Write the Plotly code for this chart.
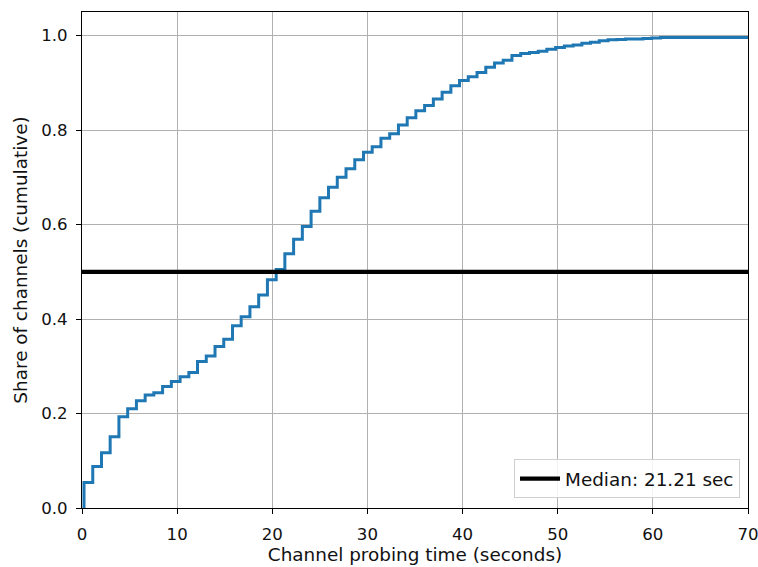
import plotly.graph_objects as go

# Left edges of the histogram bins (seconds), plus the last right edge
bin_edges = [
    0.21, 1.13, 2.05, 2.96, 3.88, 4.80, 5.72, 6.64, 7.55, 8.47,
    9.39, 10.31, 11.23, 12.14, 13.06, 13.98, 14.90, 15.82, 16.73, 17.65,
    18.57, 19.49, 20.41, 21.32, 22.24, 23.16, 24.08, 25.00, 25.91, 26.83,
    27.75, 28.67, 29.59, 30.50, 31.42, 32.34, 33.26, 34.18, 35.09, 36.01,
    36.93, 37.85, 38.77, 39.68, 40.60, 41.52, 42.44, 43.36, 44.27, 45.19,
    46.11, 47.03, 47.95, 48.86, 49.78, 50.70, 51.62, 52.54, 53.45, 54.37,
    55.29, 56.21, 57.13, 58.04, 58.96, 59.88, 60.80, 72.00,
]

# Cumulative share of channels over each bin
cum_share = [
    0.054, 0.088, 0.117, 0.151, 0.193, 0.210, 0.227, 0.239, 0.244, 0.257,
    0.268, 0.278, 0.287, 0.310, 0.322, 0.342, 0.357, 0.386, 0.405, 0.426,
    0.451, 0.483, 0.505, 0.538, 0.569, 0.596, 0.628, 0.657, 0.679, 0.700,
    0.718, 0.737, 0.753, 0.765, 0.783, 0.792, 0.811, 0.826, 0.841, 0.852,
    0.866, 0.880, 0.894, 0.905, 0.913, 0.922, 0.933, 0.942, 0.948, 0.958,
    0.962, 0.964, 0.967, 0.971, 0.975, 0.978, 0.980, 0.984, 0.986, 0.989,
    0.991, 0.992, 0.993, 0.993, 0.994, 0.995, 0.996,
]

median_share = 0.5
median_label = "Median: 21.21 sec"

x_ticks = [0, 10, 20, 30, 40, 50, 60, 70]
y_ticks = [0.0, 0.2, 0.4, 0.6, 0.8, 1.0]

FONT = "DejaVu Sans"
GRID = "#b0b0b0"
TEXT = "#111111"
TICK_SIZE = 16.6
LABEL_SIZE = 18.4

# Step outline of the cumulative histogram
step_x = [bin_edges[0]] + bin_edges
step_y = [0.0] + cum_share + [cum_share[-1]]

fig = go.Figure()
fig.add_trace(go.Scatter(
    x=step_x, y=step_y, mode="lines", line_shape="hv",
    line=dict(color="#1f77b4", width=3),
    showlegend=False, hoverinfo="skip",
))
fig.add_trace(go.Scatter(
    x=[x_ticks[0], x_ticks[-1]], y=[median_share, median_share],
    mode="lines", line=dict(color="black", width=4.2),
    name=median_label,
))

fig.update_layout(
    width=758, height=567,
    margin=dict(l=82, r=10, t=12, b=59, autoexpand=False),
    paper_bgcolor="white", plot_bgcolor="white",
    font=dict(family=FONT, size=TICK_SIZE, color=TEXT),
    legend=dict(
        x=0.988, y=0.02, xanchor="right", yanchor="bottom",
        bgcolor="rgba(255,255,255,0.85)", bordercolor="#d0d0d0", borderwidth=1,
        font=dict(family=FONT, size=LABEL_SIZE, color=TEXT),
        itemwidth=40,
    ),
)

axis_common = dict(
    showline=True, linecolor="black", linewidth=1.1, mirror=True,
    ticks="outside", ticklen=5, tickwidth=1.1, tickcolor="black",
    showgrid=True, gridcolor=GRID, gridwidth=1.1, zeroline=False,
    automargin=False, ticklabeloverflow="allow",
    tickfont=dict(family=FONT, size=TICK_SIZE, color=TEXT),
)

fig.update_xaxes(
    range=[0, 70], tickvals=x_ticks, ticklabelstandoff=6,
    title=dict(text="Channel probing time (seconds)", standoff=4,
               font=dict(family=FONT, size=LABEL_SIZE, color=TEXT)),
    **axis_common,
)
fig.update_yaxes(
    range=[0, 1.05], tickvals=y_ticks, tickformat=".1f", ticklabelstandoff=5,
    title=dict(text="Share of channels (cumulative)", standoff=8,
               font=dict(family=FONT, size=LABEL_SIZE, color=TEXT)),
    **axis_common,
)

fig.write_html("out.html")
